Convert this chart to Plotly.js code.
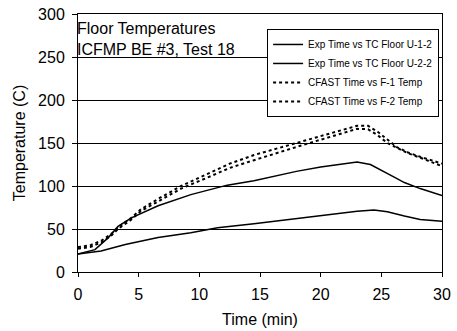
<!DOCTYPE html>
<html>
<head>
<meta charset="utf-8">
<script src="https://cdn.plot.ly/plotly-3.0.1.min.js"></script>
<style>html,body{margin:0;padding:0;background:#fff;}#chart{width:457px;height:331px;}</style>
</head>
<body>
<div id="chart"></div>
<script>
// Exp TC Floor U-1-2
const tU1 = [0, 1.4, 2.5, 3.3, 4.4, 6.6, 9.3, 12.3, 14.5, 16.2, 18, 20, 22, 23, 24.1, 25.5, 26.1, 26.9, 28.2, 30];
const vU1 = [21, 26, 40, 53, 63, 77, 90, 101, 106, 111.5, 117, 122, 126, 128, 125, 115, 110, 104, 97, 89];
// Exp TC Floor U-2-2
const tU2 = [0, 1.9, 3.9, 6.6, 9.3, 11.5, 14.5, 17.3, 21.4, 23, 24.4, 25.5, 26.9, 28.2, 30];
const vU2 = [21, 24.4, 32, 40, 45.7, 51.5, 56, 61, 68, 70.5, 72, 70, 65, 61, 59];
// CFAST F-1 and F-2
const tCF = [0, 1, 2, 2.8, 3.3, 4.4, 5.2, 6.6, 8.5, 10.7, 12.5, 14.5, 16.5, 18.6, 21, 23, 23.9, 24.7, 25.5, 26.3, 27.2, 28.2, 30];
const vF1 = [29, 31, 37, 45, 52, 63, 73, 85, 100, 114, 126, 136, 144, 153, 162, 170, 170, 163, 154, 145, 139, 134, 126];
const vF2 = [27, 29, 35, 43, 50, 61, 71, 82, 97, 110, 121, 130, 139, 148, 158, 166.5, 166, 159, 150, 144, 138, 133, 123];

const names = ["Exp Time vs TC Floor U-1-2", "Exp Time vs TC Floor U-2-2", "CFAST Time vs F-1 Temp", "CFAST Time vs F-2 Temp"];
const xTicks = [0, 5, 10, 15, 20, 25, 30];
const yTicks = [0, 50, 100, 150, 200, 250, 300];

const FONT = "Liberation Sans, Arial, sans-serif";
const traces = [
  {x: tU1, y: vU1, name: names[0], mode: "lines", line: {color: "#000", width: 1.5}},
  {x: tU2, y: vU2, name: names[1], mode: "lines", line: {color: "#000", width: 1.5}},
  {x: tCF, y: vF1, name: names[2], mode: "lines", line: {color: "#000", width: 2, dash: "dot"}},
  {x: tCF, y: vF2, name: names[3], mode: "lines", line: {color: "#000", width: 2, dash: "dot"}}
];

const layout = {
  width: 457, height: 331,
  margin: {l: 78, r: 15, t: 14, b: 59},
  paper_bgcolor: "#fff", plot_bgcolor: "#fff",
  font: {family: FONT, size: 16, color: "#000"},
  showlegend: true,
  legend: {
    x: 0.992, xanchor: "right", y: 0.942, yanchor: "top",
    bgcolor: "#fff", bordercolor: "#000", borderwidth: 1,
    font: {family: FONT, size: 10, color: "#000"},
    tracegroupgap: 0
  },
  xaxis: {
    range: [0, 30], tickvals: xTicks, ticktext: xTicks.map(String),
    showgrid: false, zeroline: false,
    showline: true, linecolor: "#000", linewidth: 1, mirror: true,
    ticks: "outside", ticklen: 4, tickcolor: "#000", ticklabelstandoff: 4,
    tickfont: {family: FONT, size: 16},
    title: {text: "Time (min)", font: {family: FONT, size: 16}, standoff: 11}
  },
  yaxis: {
    range: [0, 300], tickvals: yTicks, ticktext: yTicks.map(String),
    showgrid: true, gridcolor: "#000", gridwidth: 1, zeroline: false,
    showline: true, linecolor: "#000", linewidth: 1, mirror: true,
    ticks: "outside", ticklen: 5, tickcolor: "#000", ticklabelstandoff: 4,
    tickfont: {family: FONT, size: 16},
    title: {text: "Temperature (C)", font: {family: FONT, size: 16}, standoff: 8}
  },
  annotations: [{
    xref: "paper", yref: "paper", x: 0, y: 1, xanchor: "left", yanchor: "top",
    xshift: -3, yshift: -4, align: "left", showarrow: false,
    text: "Floor Temperatures<br>ICFMP BE #3, Test 18",
    font: {family: FONT, size: 16, color: "#000"}
  }]
};

Plotly.newPlot("chart", traces, layout, {displayModeBar: false, staticPlot: true});
</script>
</body>
</html>
